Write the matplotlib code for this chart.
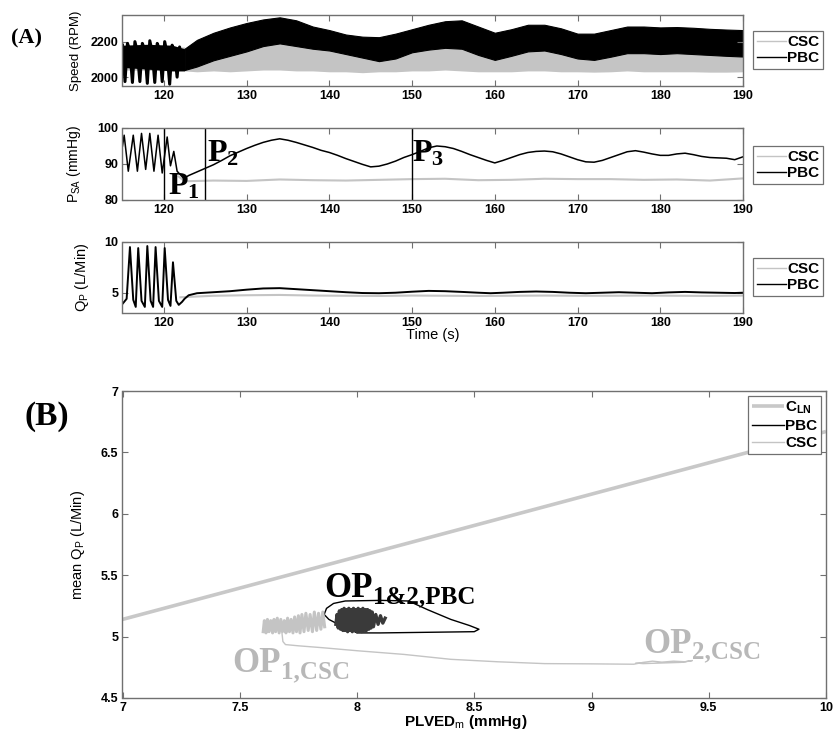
import matplotlib
matplotlib.use("Agg")
import matplotlib.pyplot as plt
from matplotlib.lines import Line2D
from matplotlib.ticker import FuncFormatter

plt.rcParams['font.family'] = ['Liberation Sans', 'DejaVu Sans']
plt.rcParams['font.weight'] = 'bold'
plt.rcParams['mathtext.fontset'] = 'custom'
plt.rcParams['mathtext.rm'] = 'Liberation Sans:weight=normal'
plt.rcParams['mathtext.it'] = 'Liberation Sans:italic'
plt.rcParams['mathtext.bf'] = 'Liberation Serif:bold'
plt.rcParams['mathtext.sf'] = 'Liberation Sans:bold'

CSC_COL = '#c4c4c4'
PBC_COL = 'black'
AX_COL = '#707070'

# ---- (A) pump speed: band envelopes (RPM) ----
early_spd_t = [115.0, 115.3, 115.6, 115.9, 116.2, 116.5, 116.8, 117.1, 117.4, 117.7, 118.0, 118.3, 118.6,
               118.9, 119.2, 119.5, 119.8, 120.1, 120.4, 120.7, 121.0, 121.3, 121.6, 121.9, 122.2]
early_spd_v = [2180, 1975, 2190, 2150, 1970, 2200, 2140, 1975, 2190, 2150, 1965, 2205, 2140,
               1970, 2190, 2150, 1975, 2200, 2130, 1960, 2180, 2140, 2000, 2170, 2060]
early_band_t = [115, 118, 121, 122.5]
early_band_lo = [2055, 2045, 2035, 2035]
early_band_hi = [2180, 2185, 2180, 2160]

spd_t = [122.5, 124, 126, 128, 130, 132, 134, 136, 138, 140, 142, 144, 146, 148, 150, 152, 154, 156,
         158, 160, 162, 164, 166, 168, 170, 172, 174, 176, 178, 180, 182, 184, 186, 188, 190]
pbc_spd_hi = [2160, 2210, 2250, 2280, 2305, 2325, 2337, 2320, 2285, 2265, 2240, 2228, 2225, 2245, 2270, 2295, 2315, 2320,
              2285, 2250, 2270, 2295, 2295, 2275, 2245, 2245, 2265, 2285, 2285, 2280, 2282, 2278, 2272, 2268, 2265]
pbc_spd_lo = [2040, 2060, 2095, 2120, 2145, 2175, 2190, 2175, 2160, 2150, 2130, 2110, 2090, 2105, 2140, 2155, 2165, 2160,
              2125, 2097, 2120, 2145, 2150, 2130, 2105, 2097, 2115, 2135, 2135, 2130, 2135, 2130, 2125, 2120, 2116]
csc_spd_lo = [2035, 2030, 2035, 2030, 2035, 2040, 2040, 2035, 2035, 2030, 2030, 2025, 2030, 2030, 2035, 2035, 2040, 2035,
              2030, 2030, 2030, 2035, 2035, 2030, 2030, 2028, 2030, 2035, 2030, 2030, 2030, 2030, 2028, 2028, 2030]

# ---- (A) systemic arterial pressure (mmHg) ----
psa_pbc_t = [115.0, 115.2, 115.7, 116.3, 116.8, 117.3, 117.8, 118.3, 118.8, 119.3, 119.8, 120.4, 120.8, 121.2,
             121.6, 122.0, 122.4, 123, 124, 125, 126, 127, 128, 129, 130, 131, 132, 133, 134, 135, 136, 137,
             138, 139, 140, 141, 142, 143, 144, 145, 146, 147, 148, 149, 150, 151, 152, 153, 154, 155, 156,
             157, 158, 159, 160, 161, 162, 163, 164, 165, 166, 167, 168, 169, 170, 171, 172, 173, 174, 175,
             176, 177, 178, 179, 180, 181, 182, 183, 184, 185, 186, 187, 188, 189, 190]
psa_pbc_v = [95.0, 98.0, 88.0, 98.0, 88.0, 98.5, 88.5, 98.5, 88.0, 98.0, 87.5, 97.5, 89.5, 93.5,
             88.0, 87.0, 86.0, 86.8, 87.8, 88.8, 89.8, 91.0, 92.3, 93.3, 94.3, 95.2, 96.0, 96.6, 97.0, 96.6,
             96.0, 95.3, 94.6, 93.8, 93.2, 92.4, 91.5, 90.7, 89.9, 89.2, 89.4, 90.0, 90.8, 91.8, 92.6, 93.5,
             94.5, 95.0, 94.8, 94.3, 93.5, 92.6, 91.8, 91.0, 90.3, 91.0, 91.8, 92.6, 93.2, 93.5, 93.6, 93.4,
             92.8, 92.0, 91.2, 90.6, 90.5, 91.0, 91.8, 92.6, 93.4, 93.7, 93.3, 92.8, 92.4, 92.4, 92.8, 93.0,
             92.6, 92.1, 91.8, 91.7, 91.6, 91.2, 92.0]
psa_csc_t = [121.8, 122.5, 126, 130, 134, 138, 142, 146, 150, 154, 158, 162, 166, 170, 174, 178, 182, 186, 190]
psa_csc_v = [86.5, 85.2, 85.4, 85.3, 85.7, 85.5, 85.4, 85.6, 85.8, 85.9, 85.5, 85.6, 85.9, 85.8, 85.8, 85.6,
             85.7, 85.4, 86.0]
marker_t = [120, 125, 150]

# ---- (A) pump flow (L/min) ----
qp_pbc_t = [115.0, 115.5, 115.9, 116.3, 116.6, 116.9, 117.3, 117.7, 118.0, 118.4, 118.7, 119.0, 119.4, 119.8,
            120.1, 120.5, 120.8, 121.1, 121.5, 121.8, 122.2, 122.5, 123, 124, 126, 128, 130, 132, 134, 136,
            138, 140, 142, 144, 146, 148, 150, 152, 154, 156, 158, 159.5, 161, 163, 165, 167, 169, 171, 173,
            175, 177, 179, 181, 183, 185, 187, 189, 190]
qp_pbc_v = [3.9, 4.4, 9.5, 4.3, 3.6, 9.4, 4.2, 3.6, 9.6, 4.2, 3.6, 9.5, 4.2, 3.6,
            9.4, 4.3, 3.7, 8.0, 4.2, 3.8, 4.1, 4.4, 4.75, 4.95, 5.05, 5.15, 5.3, 5.42, 5.45, 5.35,
            5.25, 5.15, 5.05, 4.97, 4.95, 5.0, 5.1, 5.18, 5.15, 5.08, 5.0, 4.95, 5.0, 5.08, 5.12, 5.08, 5.0, 4.95,
            5.0, 5.05, 5.0, 4.95, 5.03, 5.08, 5.03, 5.0, 4.97, 5.0]
qp_csc_t = [122, 126, 130, 134, 138, 142, 146, 150, 154, 158, 162, 166, 170, 174, 178, 182, 186, 190]
qp_csc_v = [4.55, 4.7, 4.75, 4.78, 4.72, 4.7, 4.68, 4.72, 4.7, 4.68, 4.7, 4.72, 4.7, 4.7, 4.72, 4.7, 4.68, 4.72]

# ---- (B) mean Qp vs PLVED_m ----
cln_x = [7.0, 10.0]
cln_y = [5.14, 6.67]

csc_blob_x = [7.600, 7.605, 7.612, 7.618, 7.625, 7.632, 7.640, 7.646, 7.653, 7.660, 7.668, 7.675, 7.682, 7.690,
              7.697, 7.704, 7.712, 7.719, 7.727, 7.734, 7.742, 7.750, 7.757, 7.765, 7.774, 7.782, 7.792,
              7.800, 7.810, 7.818, 7.828, 7.836, 7.846, 7.854, 7.862]
csc_blob_y = [5.04, 5.13, 5.03, 5.14, 5.04, 5.13, 5.03, 5.14, 5.04, 5.15, 5.03, 5.14, 5.04, 5.13,
              5.03, 5.15, 5.04, 5.14, 5.03, 5.16, 5.04, 5.17, 5.03, 5.18, 5.04, 5.19, 5.05,
              5.18, 5.04, 5.20, 5.05, 5.19, 5.06, 5.20, 5.08]
csc_traj_x = [7.680, 7.684, 7.695, 7.75, 7.85, 8.0, 8.2, 8.4, 8.6, 8.8, 9.0, 9.18,
              9.22, 9.26, 9.30, 9.35, 9.40, 9.43, 9.38, 9.30, 9.22, 9.19]
csc_traj_y = [5.03, 4.96, 4.935, 4.925, 4.91, 4.885, 4.855, 4.815, 4.795, 4.78, 4.778, 4.775,
              4.79, 4.80, 4.792, 4.80, 4.795, 4.805, 4.79, 4.785, 4.78, 4.785]

pbc_blob_x = [7.910, 7.915, 7.920, 7.925, 7.930, 7.935, 7.940, 7.945, 7.950, 7.955, 7.960, 7.965, 7.970,
              7.975, 7.980, 7.985, 7.990, 7.995, 8.000, 8.005, 8.010, 8.015, 8.020, 8.025, 8.030, 8.035,
              8.040, 8.045, 8.050, 8.055, 8.060, 8.065, 8.070, 8.080, 8.090, 8.100, 8.110, 8.120]
pbc_blob_y = [5.10, 5.18, 5.07, 5.21, 5.06, 5.22, 5.05, 5.23, 5.05, 5.22, 5.04, 5.23, 5.05,
              5.22, 5.04, 5.23, 5.05, 5.22, 5.04, 5.23, 5.05, 5.22, 5.04, 5.23, 5.05, 5.22,
              5.05, 5.22, 5.06, 5.21, 5.07, 5.20, 5.08, 5.18, 5.10, 5.17, 5.11, 5.15]
pbc_loop_x = [7.97, 7.92, 7.88, 7.86, 7.87, 7.90, 7.95, 8.10, 8.22, 8.30, 8.40, 8.48, 8.52, 8.50,
              8.30, 8.10, 8.00, 7.97]
pbc_loop_y = [5.06, 5.10, 5.14, 5.18, 5.23, 5.27, 5.29, 5.295, 5.29, 5.22, 5.14, 5.09, 5.06, 5.04,
              5.035, 5.03, 5.03, 5.06]


def style_axes(ax):
    for sp in ax.spines.values():
        sp.set_color(AX_COL)
        sp.set_linewidth(1.0)
    ax.tick_params(direction='in', top=True, right=True, length=4, width=0.8, color=AX_COL,
                   labelcolor='black', labelsize=9, pad=3)


def side_legend(fig, ax, ycenter):
    handles = [Line2D([], [], color=CSC_COL, lw=1), Line2D([], [], color=PBC_COL, lw=1)]
    leg = ax.legend(handles, ['CSC', 'PBC'], loc='center left', bbox_to_anchor=(753 / 835, 1 - ycenter / 734),
                    bbox_transform=fig.transFigure, borderaxespad=0, fancybox=False, framealpha=1,
                    edgecolor=AX_COL, handlelength=1.9, handletextpad=0.1, borderpad=0.25, labelspacing=0.15,
                    prop={'weight': 'bold', 'size': 11})
    leg.get_frame().set_linewidth(0.9)


def op_label(ax, x, y, sub, color):
    # big serif "OP" with a smaller serif subscript after it
    t = ax.text(x, y, 'OP', fontsize=25, fontweight='bold', family='Liberation Serif', color=color)
    ax.annotate(sub, xy=(1, 0), xycoords=t, xytext=(0, -2), textcoords='offset points',
                fontsize=18, fontweight='bold', family='Liberation Serif', color=color,
                ha='left', va='bottom')


fig = plt.figure(figsize=(8.35, 7.34), dpi=100)
W, H = 835, 734


def px_axes(l, t, r, b):
    return fig.add_axes([l / W, 1 - b / H, (r - l) / W, (b - t) / H])


ax1 = px_axes(122.5, 15, 743, 86)
ax2 = px_axes(122.5, 128, 743, 200)
ax3 = px_axes(122.5, 242, 743, 313)
ax4 = px_axes(122.5, 391, 826, 698)

# speed
ax1.fill_between([115, 122.5], [2040, 2035], [2170, 2170], color=CSC_COL, lw=0)
ax1.fill_between(spd_t, csc_spd_lo, [v + 25 for v in pbc_spd_lo], color=CSC_COL, lw=0)
ax1.fill_between(early_band_t, early_band_lo, early_band_hi, color=PBC_COL, lw=0)
ax1.plot(early_spd_t, early_spd_v, color=PBC_COL, lw=2.2)
ax1.fill_between(spd_t, pbc_spd_lo, pbc_spd_hi, color=PBC_COL, lw=0.8, edgecolor=PBC_COL)
ax1.set_xlim(115, 190)
ax1.set_ylim(1950, 2350)
ax1.set_yticks([2000, 2200])
ax1.set_xticks(range(120, 191, 10))
ax1.set_ylabel('Speed (RPM)', fontsize=9.5, fontweight='normal')
ax1.yaxis.set_label_coords(-0.066, 0.5)
style_axes(ax1)
side_legend(fig, ax1, 50)

# pressure
ax2.plot(psa_csc_t, psa_csc_v, color=CSC_COL, lw=1.5)
ax2.plot(psa_pbc_t, psa_pbc_v, color=PBC_COL, lw=1.1)
for t in marker_t:
    ax2.axvline(t, color='black', lw=1.0)
ax2.set_xlim(115, 190)
ax2.set_ylim(80, 100)
ax2.set_yticks([80, 90, 100])
ax2.set_xticks(range(120, 191, 10))
ax2.set_ylabel(r'$\mathrm{P_{SA}}$ (mmHg)', fontsize=10, fontweight='normal')
ax2.yaxis.set_label_coords(-0.064, 0.5)
style_axes(ax2)
side_legend(fig, ax2, 165)
ax2.text(120.45, 81.6, r'$\mathbf{P_1}$', fontsize=23, color='black')
ax2.text(125.2, 90.8, r'$\mathbf{P_2}$', fontsize=23, color='black')
ax2.text(150.05, 90.8, r'$\mathbf{P_3}$', fontsize=23, color='black')

# flow
ax3.plot(qp_csc_t, qp_csc_v, color=CSC_COL, lw=1.5)
ax3.plot(qp_pbc_t, qp_pbc_v, color=PBC_COL, lw=1.4)
ax3.set_xlim(115, 190)
ax3.set_ylim(3, 10)
ax3.set_yticks([5, 10])
ax3.set_xticks(range(120, 191, 10))
ax3.set_ylabel(r'$\mathrm{Q_P}$ (L/Min)', fontsize=10.5, fontweight='normal')
ax3.yaxis.set_label_coords(-0.05, 0.5)
ax3.set_xlabel('Time (s)', fontsize=10.5, fontweight='normal')
ax3.xaxis.set_label_coords(0.5, -0.215)
style_axes(ax3)
side_legend(fig, ax3, 277)

# (B) operating points
fmt = FuncFormatter(lambda v, p: '%g' % v)
ax4.plot(cln_x, cln_y, color='#c8c8c8', lw=2.6, label=r'$\mathsf{C_{LN}}$', solid_capstyle='butt')
ax4.plot(pbc_loop_x, pbc_loop_y, color=PBC_COL, lw=1.0, label='PBC')
ax4.plot(csc_traj_x, csc_traj_y, color=CSC_COL, lw=1.0, label='CSC')
ax4.plot(csc_blob_x, csc_blob_y, color=CSC_COL, lw=2.2)
ax4.plot(pbc_blob_x, pbc_blob_y, color='#3a3a3a', lw=2.4)
ax4.set_xlim(7, 10)
ax4.set_ylim(4.5, 7)
ax4.set_xticks([7, 7.5, 8, 8.5, 9, 9.5, 10])
ax4.set_yticks([4.5, 5, 5.5, 6, 6.5, 7])
ax4.xaxis.set_major_formatter(fmt)
ax4.yaxis.set_major_formatter(fmt)
ax4.set_xlabel(r'PLVED$_\mathrm{m}$ (mmHg)', fontsize=11, fontweight='bold')
ax4.xaxis.set_label_coords(0.488, -0.05)
ax4.set_ylabel(r'mean $\mathrm{Q_P}$ (L/Min)', fontsize=10.5, fontweight='normal')
ax4.yaxis.set_label_coords(-0.051, 0.5)
style_axes(ax4)
leg = ax4.legend(loc='upper right', borderaxespad=0.3, fancybox=False, framealpha=1, edgecolor=AX_COL,
                 handlelength=2.1, handletextpad=0.1, borderpad=0.25, labelspacing=0.2,
                 prop={'weight': 'bold', 'size': 11})
leg.get_frame().set_linewidth(0.9)

op_label(ax4, 7.86, 5.32, '1&2,PBC', 'black')
op_label(ax4, 7.47, 4.71, '1,CSC', '#b8b8b8')
op_label(ax4, 9.22, 4.87, '2,CSC', '#b8b8b8')

fig.text(27 / W, 1 - 38 / H, '(A)', fontsize=16, fontweight='bold', family='Liberation Serif',
         ha='center', va='center')
fig.text(47 / W, 1 - 416 / H, '(B)', fontsize=24, fontweight='bold', family='Liberation Serif',
         ha='center', va='center')

fig.savefig('out.png', dpi=100)
